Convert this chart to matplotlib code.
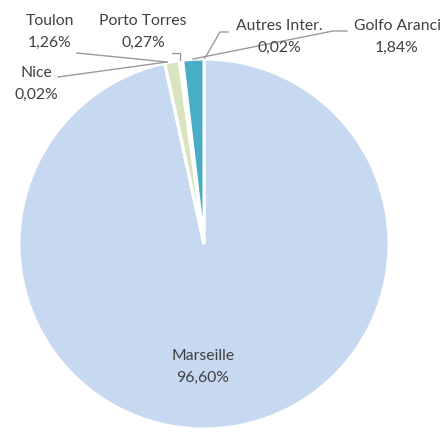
import matplotlib.pyplot as plt

plt.rcParams['font.family'] = ['Lato', 'DejaVu Sans']

ports = ['Marseille', 'Nice', 'Toulon', 'Porto Torres', 'Autres Inter.', 'Golfo Aranci']
shares = [96.60, 0.02, 1.26, 0.27, 0.02, 1.84]
labels = ['96,60%', '0,02%', '1,26%', '0,27%', '0,02%', '1,84%']
colors = ['#C6D9F1', '#F2DCDB', '#D7E4BD', '#FFFFFF', '#E6E0EC', '#4BACC6']

W, H = 442, 432
fig = plt.figure(figsize=(W / 100, H / 100), dpi=100)
ax = fig.add_axes([0, 0, 1, 1])

def Y(y):
    return H - y

ax.pie(shares, startangle=90, counterclock=False, center=(204, Y(244)), radius=185,
       colors=colors, wedgeprops=dict(edgecolor='white', linewidth=2.2))
ax.set_xlim(0, W)
ax.set_ylim(0, H)
ax.set_aspect('equal')
ax.axis('off')

txt = dict(fontsize=11.3, color='#404040', ha='center', va='center', linespacing=1.75)
# label positions in pixel coords (x, y from top)
pos = {
    'Marseille': (203, 367),
    'Nice': (36, 84),
    'Toulon': (50, 32),
    'Porto Torres': (143, 32),
    'Autres Inter.': (279, 37),
    'Golfo Aranci': (397, 37),
}
for name, lab in zip(ports, labels):
    x, y = pos[name]
    ax.text(x, Y(y), name + '\n' + lab, **txt)

lc = dict(color='#9A9A9A', lw=1.0)
leaders = {
    'Nice': [(58, 77), (167, 62)],
    'Toulon': [(77, 53), (167, 62)],
    'Porto Torres': [(172, 53), (180, 53), (180, 60)],
    'Autres Inter.': [(228, 32), (220, 32), (205, 58)],
    'Golfo Aranci': [(347, 31), (333, 31), (193, 59)],
}
for pts in leaders.values():
    ax.plot([p[0] for p in pts], [Y(p[1]) for p in pts], **lc)

fig.savefig('out.png', dpi=100)
